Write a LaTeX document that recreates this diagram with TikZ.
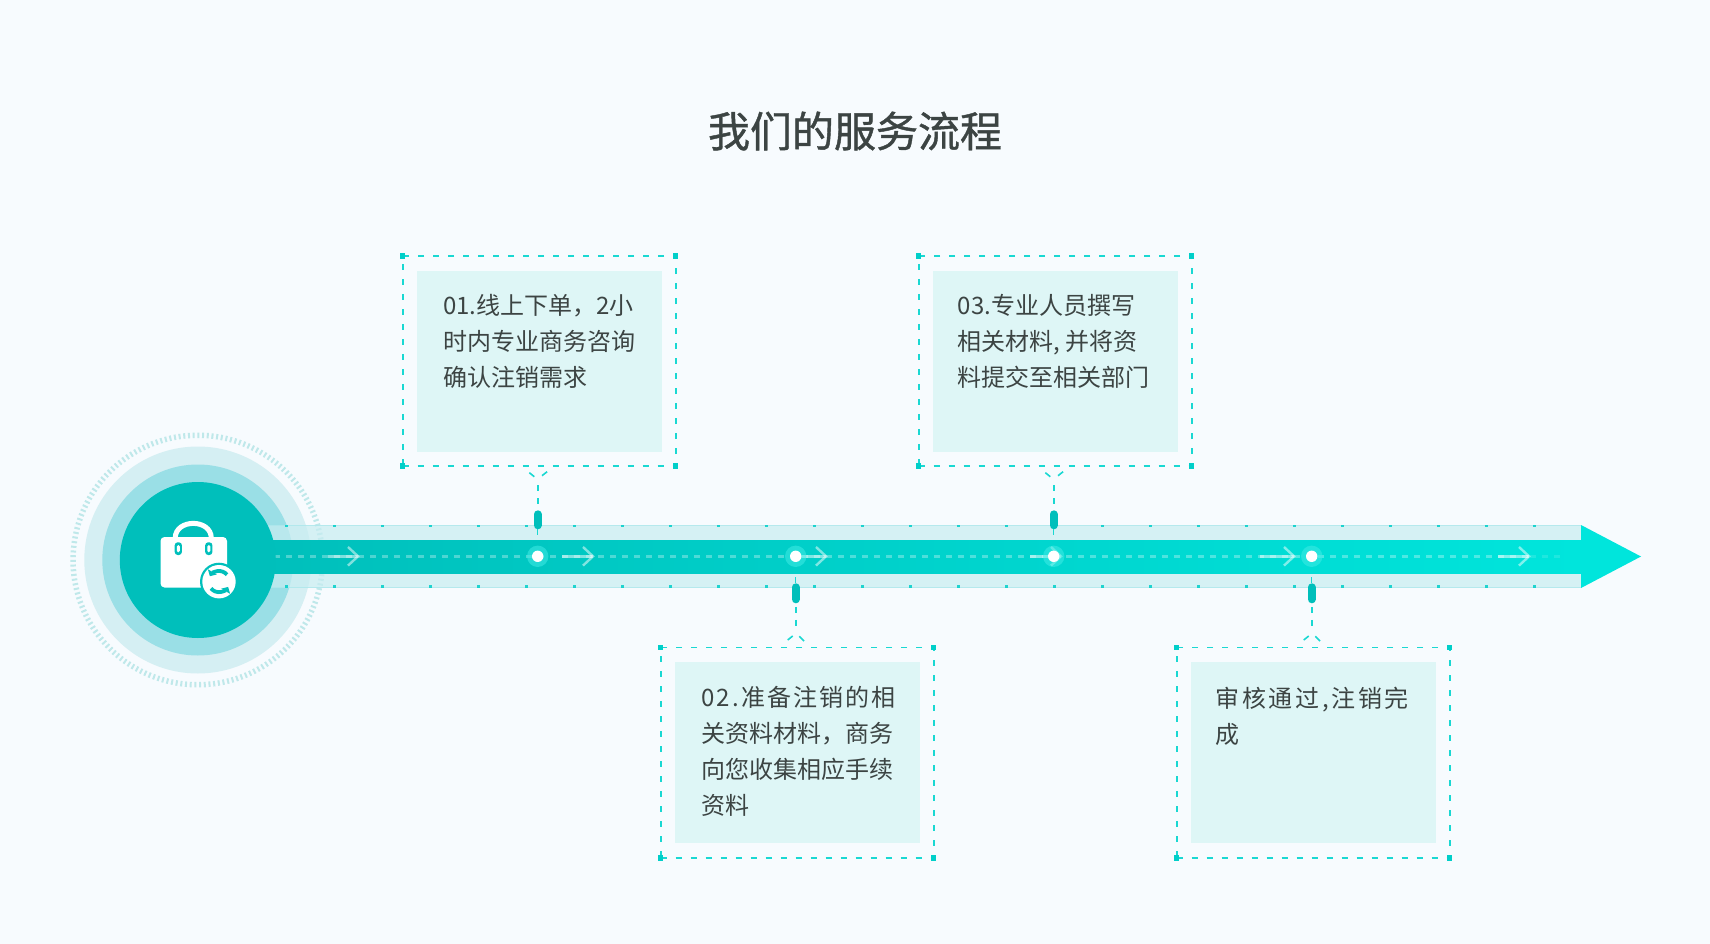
\documentclass[tikz,border=0pt]{standalone}
\usepackage{fontspec}
\setmainfont{Noto Sans CJK SC}
\newfontfamily\titlefont[FakeBold=1]{Noto Sans CJK SC}
\usetikzlibrary{arrows.meta}
\definecolor{bgc}{HTML}{F7FBFE}
\definecolor{boxc}{HTML}{DEF6F6}
\definecolor{dashc}{HTML}{1AD8D2}
\definecolor{cornerc}{HTML}{00CFC9}
\definecolor{corec}{HTML}{00BFBB}
\definecolor{endc}{HTML}{00E5DC}
\definecolor{midc}{HTML}{9ADFE6}
\definecolor{outerc}{HTML}{D5EFF3}
\definecolor{tickc}{HTML}{BFE8EA}
\definecolor{txtc}{HTML}{3C4443}
\definecolor{bandc}{HTML}{C7EDF1}
\definecolor{bandd}{HTML}{A8E6EB}
\tikzset{
  x=1pt,y=-1pt,
  panel/.style={fill=boxc,draw=none,inner sep=0pt,outer sep=0pt,minimum width=245pt,minimum height=181pt},
  dashframe/.style={draw=dashc,line width=1.6pt,dash pattern=on 6pt off 9pt,inner sep=0pt,outer sep=0pt,minimum width=273pt,minimum height=210.4pt},
  corner/.style={fill=cornerc,draw=none,inner sep=0pt,outer sep=0pt,minimum size=5.5pt},
  stem/.style={draw=dashc,line width=1.6pt,dash pattern=on 6pt off 7pt},
  arm/.style={draw=dashc,line width=1.6pt},
  capsule/.style={draw=corec,line width=8pt,line cap=round},
  tag/.style={font=\fontsize{24pt}{36pt}\selectfont,text=txtc,align=left,anchor=north west,inner sep=0pt},
  banddot/.style={fill=cornerc,fill opacity=.85,draw=none,inner sep=0pt,minimum size=2.8pt},
  flow/.style={draw=white,draw opacity=.5,line width=2.4pt},
  halo/.style={circle,fill=endc!75!white,fill opacity=.55,inner sep=0pt,minimum size=21.4pt},
  pin/.style={circle,fill=white,inner sep=0pt,minimum size=11.4pt},
  swirl/.style={draw=corec,line width=3.8pt,-{Triangle[length=5pt,width=10pt]}},
}
\begin{document}
\begin{tikzpicture}
\fill[bgc] (0,0) rectangle (1710,944);
\useasboundingbox (0,0) rectangle (1710,944);
% title
\node[font=\fontsize{42pt}{48pt}\titlefont,text=txtc,inner sep=0pt] (title) at (855,131) {我们的服务流程};
% rings
\coordinate (hub) at (197.8,560);
\fill[outerc] (hub) circle[radius=113.5];
\fill[midc] (hub) circle[radius=95.5];
\draw[tickc,line width=5.5pt,dash pattern=on 2pt off 2.7pt] (hub) circle[radius=124.75];
% bands
\fill[bandc,opacity=.7] (267,525) rectangle (1581,588);
\fill[bandd,opacity=.7] (267,525) rectangle (1581,526);
\fill[bandd,opacity=.7] (267,587) rectangle (1581,588);
\shade[left color=corec,right color=endc] (250,540) rectangle (1581,573);
\fill[endc] (1581,525) -- (1641,556.5) -- (1581,588) -- cycle;
\foreach \k in {0,...,26} {
  \node[banddot] (dt\k) at (286.3+48*\k,526) {};
  \node[banddot] (db\k) at (286.3+48*\k,586.5) {};
}
% centre dashes
\draw[draw=white,draw opacity=.3,line width=3pt,dash pattern=on 6pt off 6pt] (274,556.3) -- (1530,556.3);
\draw[draw=white,draw opacity=.12,line width=3pt,dash pattern=on 6pt off 6pt] (1530,556.3) -- (1562,556.3);
% flow arrows
\foreach \xa/\xb in {328/358,562/593,800/826,1030/1061,1260/1294,1498/1529} {
  \draw[flow] (\xa,556.3) -- (\xb,556.3);
  \draw[flow] (\xb-10,547) -- (\xb,556.3) -- (\xb-10,565.6);
}
% core
\fill[corec] (hub) circle[radius=78];
% icon
\fill[white,rounded corners=4pt] (160.5,537) rectangle (227,587.5);
\draw[white,line width=5pt] (175.2,538) .. controls (175.5,518.5) and (211,518.5) .. (211.3,538);
\foreach \bx in {178.3,208.8} {
  \fill[corec,rounded corners=3pt] (\bx-3.6,542.3) rectangle (\bx+3.6,555);
  \fill[white,rounded corners=1.5pt] (\bx-1.5,545) rectangle (\bx+1.5,552.3);
}
\fill[corec] (219,581.7) circle[radius=19];
\fill[white] (219,581.7) circle[radius=16.7];
\draw[swirl] (227,574.7) arc[start angle=-40,end angle=-150,radius=10.5];
\draw[swirl] (211,588.4) arc[start angle=140,end angle=30,radius=10.5];
% panels and frames
\foreach \i/\cx/\cy in {1/539.2/361,2/797.2/752.7,3/1055.2/361,4/1313.2/752.7} {
  \node[panel] (p\i) at (\cx,\cy) {};
  \node[dashframe] (f\i) at (\cx,\cy) {};
  \node[corner] at (f\i.north west) {};
  \node[corner] at (f\i.north east) {};
  \node[corner] at (f\i.south west) {};
  \node[corner] at (f\i.south east) {};
}
\node[tag] (t1) at (443,294.5) {01.线上下单，2小\\时内专业商务咨询\\确认注销需求};
\node[tag] (t2) at (701,686.5) {\addfontfeature{LetterSpace=9}02.准备注销的相\\关资料材料，商务\\向您收集相应手续\\资料};
\node[tag] (t3) at (957.5,294.5) {03.专业人员撰写\\相关材料, 并将资\\料提交至相关部门};
\node[tag] (t4) at (1215.5,686.5) {\addfontfeature{LetterSpace=11}审核通过,注销完\\成};
% timeline points and stems
\foreach \i/\nx in {1/537.7,2/795.7,3/1053.7,4/1311.7} {
  \node[halo] (h\i) at (\nx,556.3) {};
  \node[pin] (n\i) at (\nx,556.3) {};
}
\foreach \i in {1,3} {
  \path (n\i) +(0,-42) coordinate (ca\i) +(0,-31) coordinate (cb\i)
        +(0,-71) coordinate (sa\i) +(0,-46) coordinate (sb\i)
        +(0,-27) coordinate (da\i) +(0,-21) coordinate (db\i)
        +(-8.4,-83.6) coordinate (la\i) +(-3.4,-79.6) coordinate (lb\i)
        +(9.4,-84.6) coordinate (ma\i) +(4.3,-80.6) coordinate (mb\i);
  \draw[capsule] (ca\i) -- (cb\i);
  \draw[stem] (sa\i) -- (sb\i);
  \draw[arm,line width=1.4pt] (da\i) -- (db\i);
  \draw[arm] (la\i) -- (lb\i);
  \draw[arm] (ma\i) -- (mb\i);
}
\foreach \i in {2,4} {
  \path (n\i) +(0,31) coordinate (ca\i) +(0,43) coordinate (cb\i)
        +(0,50.5) coordinate (sa\i) +(0,74) coordinate (sb\i)
        +(0,21) coordinate (da\i) +(0,27) coordinate (db\i)
        +(-8,83.7) coordinate (la\i) +(-3,79.7) coordinate (lb\i)
        +(8.3,84.7) coordinate (ma\i) +(3.6,80) coordinate (mb\i);
  \draw[capsule] (ca\i) -- (cb\i);
  \draw[stem] (sa\i) -- (sb\i);
  \draw[arm,line width=1.4pt] (da\i) -- (db\i);
  \draw[arm] (la\i) -- (lb\i);
  \draw[arm] (ma\i) -- (mb\i);
}
\end{tikzpicture}
\end{document}
